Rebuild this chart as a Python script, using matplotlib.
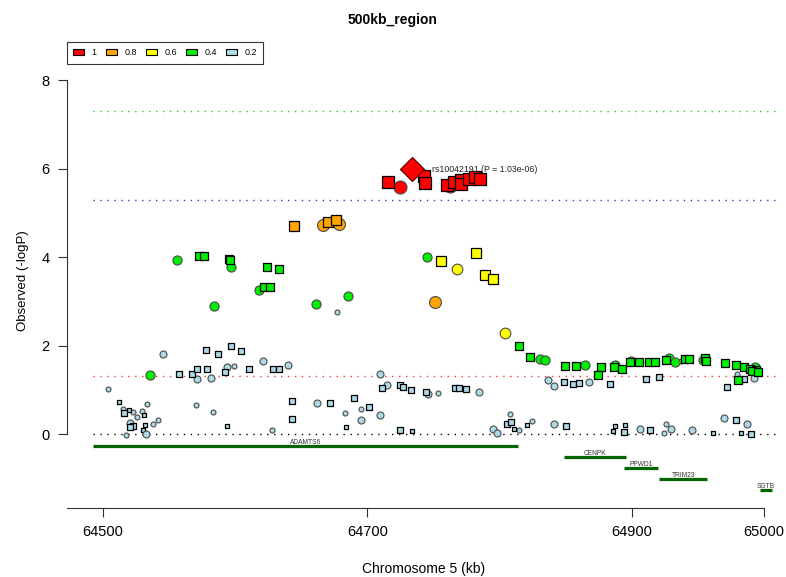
import matplotlib
matplotlib.use("Agg")
import matplotlib.pyplot as plt
import numpy as np
from matplotlib.patches import Patch

plt.rcParams["font.family"] = ["Liberation Sans", "DejaVu Sans"]

# Lead SNP
lead_snp = "rs10042191"
lead_pos = 64734.1
lead_p = 1.03e-06

# LD legend
ld_labels = ["1", "0.8", "0.6", "0.4", "0.2"]
ld_colors = ["#FF0000", "#FFA500", "#FFFF00", "#00EE00", "#ADD8E6"]

# SNPs per LD group: position (kb), -log10(P), genotyped (1 = square, 0 = circle)
red_pos = [64716.0, 64724.6, 64743.0, 64743.9, 64760.1, 64762.5, 64765.8,
           64770.7, 64770.9, 64777.0, 64781.5, 64785.5]
red_logp = [5.69, 5.59, 5.84, 5.67, 5.63, 5.60, 5.69, 5.74, 5.66, 5.76,
            5.81, 5.76]
red_typed = [1, 0, 1, 1, 1, 0, 1, 1, 1, 1, 1, 1]

orange_pos = [64644.7, 64666.8, 64678.9, 64670.1, 64676.2, 64751.2]
orange_logp = [4.70, 4.73, 4.75, 4.80, 4.83, 2.99]
orange_typed = [1, 0, 0, 1, 1, 0]

yellow_pos = [64755.8, 64782.5, 64788.8, 64795.3, 64768.1, 64804.4]
yellow_logp = [3.91, 4.09, 3.60, 3.50, 3.72, 2.28]
yellow_typed = [1, 1, 1, 1, 0, 0]

green_pos = [64556.5, 64573.1, 64576.9, 64595.8, 64596.3, 64597.3, 64624.0,
             64633.1, 64618.2, 64622.0, 64626.8, 64584.4, 64535.8, 64661.3,
             64685.7, 64745.2, 64815.0, 64823.0, 64830.6, 64834.2, 64849.5,
             64857.8, 64864.8, 64876.5, 64874.2, 64887.5, 64886.5, 64892.8,
             64899.5, 64898.6, 64905.4, 64913.2, 64917.8, 64925.6, 64928.1,
             64932.9, 64940.0, 64943.0, 64954.0, 64955.3, 64956.0, 64970.2,
             64978.5, 64984.6, 64989.3, 64993.3, 64993.9, 64990.9, 64995.2,
             64980.0]
green_logp = [3.94, 4.02, 4.02, 3.95, 3.93, 3.77, 3.77, 3.74, 3.26, 3.32,
              3.32, 2.90, 1.34, 2.94, 3.11, 4.00, 2.00, 1.75, 1.70, 1.68,
              1.53, 1.53, 1.57, 1.51, 1.34, 1.57, 1.52, 1.48, 1.64, 1.63,
              1.63, 1.63, 1.63, 1.68, 1.72, 1.63, 1.69, 1.69, 1.67, 1.71,
              1.66, 1.60, 1.57, 1.51, 1.48, 1.52, 1.45, 1.42, 1.40, 1.21]
green_typed = [0, 1, 1, 1, 1, 0, 1, 1, 0, 1, 1, 0, 0, 0, 0, 0, 1, 1, 0, 0,
               1, 1, 0, 1, 1, 0, 1, 1, 0, 1, 1, 1, 1, 1, 0, 0, 1, 1, 0, 1,
               1, 1, 1, 1, 1, 0, 1, 1, 1, 1]

blue_pos = [64545.7, 64571.4, 64581.7, 64520.7, 64532.8, 64594.3, 64621.5,
            64640.1, 64662.3, 64695.1, 64709.7, 64709.7, 64715.2, 64746.0,
            64784.7, 64836.4, 64841.0, 64795.3, 64798.3, 64841.0, 64867.9,
            64906.4, 64929.9, 64969.9, 64987.3, 64992.4, 64945.3,
            64578.4, 64587.2, 64558.0, 64567.8, 64571.6, 64578.7, 64516.4,
            64523.2, 64521.0, 64596.8, 64604.8, 64592.7, 64610.9, 64628.6,
            64633.6, 64643.4, 64643.4, 64672.1, 64690.0, 64701.6, 64711.4,
            64725.0, 64727.3, 64733.1, 64744.2, 64766.4, 64769.2, 64774.9,
            64725.0, 64849.0, 64855.3, 64860.3, 64805.9, 64808.7, 64850.0,
            64883.5, 64911.0, 64920.8, 64894.1, 64913.5, 64972.2, 64984.8,
            64978.5, 64990.0]
blue_logp = [1.81, 1.24, 1.26, 0.26, -0.01, 1.51, 1.65, 1.55, 0.70, 0.32,
             0.43, 1.36, 1.11, 0.90, 0.96, 1.23, 1.09, 0.11, 0.02, 0.22,
             1.18, 0.12, 0.12, 0.36, 0.22, 1.26, 0.10,
             1.90, 1.81, 1.36, 1.36, 1.48, 1.48, 0.47, 0.17, 0.15, 1.99,
             1.88, 1.41, 1.48, 1.47, 1.47, 0.75, 0.33, 0.70, 0.81, 0.62,
             1.05, 1.11, 1.07, 0.99, 0.96, 1.04, 1.05, 1.01, 0.08, 1.17,
             1.13, 1.16, 0.23, 0.27, 0.19, 1.13, 1.25, 1.29, 0.04, 0.08,
             1.07, 1.24, 0.31, -0.01]
blue_typed = [0] * 27 + [1] * 44

grey_pos = [64504.3, 64515.4, 64523.2, 64526.2, 64530.0, 64533.6, 64517.5,
            64538.3, 64542.1, 64570.6, 64583.7, 64599.3, 64628.0, 64683.4,
            64695.1, 64753.3, 64807.9, 64814.7, 64824.3, 64925.9, 64924.1,
            64979.3, 64937.4, 64676.9,
            64512.2, 64520.0, 64531.3, 64532.0, 64530.8, 64594.3, 64684.2,
            64734.1, 64810.7, 64821.0, 64887.5, 64886.0, 64895.1, 64961.1,
            64982.5]
grey_logp = [1.02, 0.56, 0.50, 0.38, 0.52, 0.67, -0.02, 0.23, 0.32, 0.65,
             0.50, 1.54, 0.10, 0.48, 0.57, 0.92, 0.46, 0.08, 0.30, 0.23,
             0.03, 1.36, 1.66, 2.75,
             0.72, 0.54, 0.42, 0.20, 0.10, 0.17, 0.15, 0.07, 0.11, 0.21,
             0.18, 0.06, 0.20, 0.02, 0.02]
grey_typed = [0] * 24 + [1] * 15

# typical r2 of each group, drawn lowest first
groups = [
    (grey_pos, grey_logp, grey_typed, 0.02, ld_colors[4]),
    (blue_pos, blue_logp, blue_typed, 0.12, ld_colors[4]),
    (green_pos, green_logp, green_typed, 0.32, ld_colors[3]),
    (yellow_pos, yellow_logp, yellow_typed, 0.52, ld_colors[2]),
    (orange_pos, orange_logp, orange_typed, 0.72, ld_colors[1]),
    (red_pos, red_logp, red_typed, 0.92, ld_colors[0]),
]

# significance thresholds (-log10 P)
thresholds = [7.3, 5.3, 1.3, 0.0]
threshold_colors = ["#22CC22", "#3344BB", "#FF3333", "black"]

# genes: name, start, end (kb), track row
gene_names = ["ADAMTS6", "CENPK", "PPWD1", "TRIM23", "SGTB"]
gene_start = [64492.7, 64848.7, 64894.0, 64920.6, 64997.0]
gene_end = [64814.0, 64895.6, 64920.0, 64957.0, 65006.0]
gene_row = [-0.27, -0.52, -0.77, -1.02, -1.27]

fig = plt.figure(figsize=(7.86, 5.77), dpi=100)
ax = fig.add_axes([0.0851, 0.1196, 0.9073, 0.7877])
ax.set_xlim(64473, 65012)
ax.set_ylim(-1.672, 8.6)

for t, c in zip(thresholds, threshold_colors):
    ax.hlines(t, 64493, 65008, colors=c, linestyles=(0, (1, 4)), lw=1.0,
              zorder=1)

for pos, logp, typed, r2, color in groups:
    pos = np.array(pos)
    logp = np.array(logp)
    typed = np.array(typed, dtype=bool)
    size_pt = (3.6 + 9.8 * np.sqrt(r2)) * 0.72
    ax.scatter(pos[~typed], logp[~typed], s=size_pt ** 2, marker="o",
               facecolor=color, edgecolor="#4a4a4a", linewidth=0.8, zorder=3)
    ax.scatter(pos[typed], logp[typed], s=(0.86 * size_pt) ** 2, marker="s",
               facecolor=color, edgecolor="black", linewidth=0.9, zorder=3)

lead_logp = -np.log10(lead_p)
ax.scatter([lead_pos], [lead_logp], s=12.2 ** 2, marker="D",
           facecolor=ld_colors[0], edgecolor="#660000", linewidth=0.9,
           zorder=4)
ax.annotate(f"{lead_snp} (P = {lead_p:.2e})", (lead_pos, lead_logp),
            xytext=(14, 0), textcoords="offset points", fontsize=6.3,
            color="#222222", va="center", ha="left")

for name, s, e, row in zip(gene_names, gene_start, gene_end, gene_row):
    ax.plot([s, e], [row, row], color="#006400", lw=2.3,
            solid_capstyle="butt", zorder=2)
    ax.text((s + e) / 2, row + 0.08, name, fontsize=4.8, color="#333333",
            ha="center", va="center")

for side in ["top", "right"]:
    ax.spines[side].set_visible(False)
ax.spines["left"].set_bounds(0, 8)
ax.spines["bottom"].set_bounds(64473, 65000)
for side in ["left", "bottom"]:
    ax.spines[side].set_linewidth(0.8)
    ax.spines[side].set_color("#333333")

ax.set_yticks([0, 2, 4, 6, 8])
ax.set_xticks([64500, 64700, 64900, 65000])
ax.tick_params(axis="both", length=6.5, width=0.8, color="#333333",
               labelsize=10.5)
ax.tick_params(axis="y", pad=6)
ax.tick_params(axis="x", pad=6)
ax.set_ylabel("Observed (-logP)", fontsize=9.5, labelpad=9)
ax.set_xlabel("Chromosome 5 (kb)", fontsize=10, labelpad=16)

fig.text(0.5, 1 - 20 / 577, "500kb_region", fontsize=10,
         fontweight="bold", ha="center", va="center")

handles = [Patch(facecolor=c, edgecolor="black", linewidth=0.8)
           for c in ld_colors]
leg = fig.legend(handles, ld_labels, ncol=5, loc="upper left",
                 bbox_to_anchor=(67 / 786, 1 - 42 / 577), fontsize=6.5,
                 frameon=True, fancybox=False, edgecolor="black",
                 handlelength=1.2, handleheight=0.7, handletextpad=0.85,
                 columnspacing=1.0, borderpad=0.7, borderaxespad=0)
leg.get_frame().set_linewidth(0.8)

fig.savefig("out.png", dpi=100)
